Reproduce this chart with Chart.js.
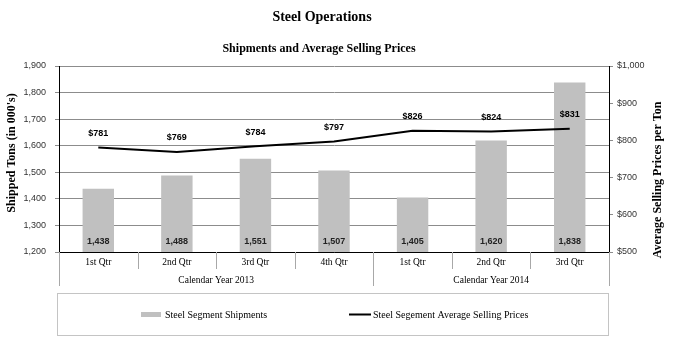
<!DOCTYPE html>
<html>
<head>
<meta charset="utf-8">
<title>Steel Operations</title>
<script src="https://cdn.jsdelivr.net/npm/chart.js@4.4.1/dist/chart.umd.min.js"></script>
<style>
  body { margin: 0; background: #fff; }
  canvas { display: block; }
</style>
</head>
<body>
<canvas id="steelChart" width="674" height="344"></canvas>
<script>
const quarters = ["1st Qtr", "2nd Qtr", "3rd Qtr", "4th Qtr", "1st Qtr", "2nd Qtr", "3rd Qtr"];
const years = ["Calendar Year 2013", "Calendar Year 2014"];
const quartersPerYear = [4, 3];
const shipments = [1438, 1488, 1551, 1507, 1405, 1620, 1838];
const avgPrices = [781, 769, 784, 797, 826, 824, 831];
const shipmentTicks = [1200, 1300, 1400, 1500, 1600, 1700, 1800, 1900];
const priceTicks = [500, 600, 700, 800, 900, 1000];

const SANS = "'Liberation Sans', Arial, sans-serif";
const SERIF = "'Liberation Serif', 'Times New Roman', serif";
const BAR_GREY = "#c0c0c0";

const fmt = new Intl.NumberFormat("en-US");

// value labels, titles, the two-row category table and the boxed legend
const steelDecor = {
  id: "steelDecor",
  afterDatasetsDraw(chart) {
    const { ctx, chartArea } = chart;
    ctx.save();
    ctx.textAlign = "center";
    ctx.textBaseline = "middle";
    ctx.font = `bold 9px ${SANS}`;
    ctx.fillStyle = "#222";
    chart.getDatasetMeta(1).data.forEach((bar, i) => {
      ctx.fillText(fmt.format(shipments[i]), bar.x, chartArea.bottom - 10);
    });
    ctx.fillStyle = "#000";
    chart.getDatasetMeta(0).data.forEach((pt, i) => {
      ctx.fillText("$" + fmt.format(avgPrices[i]), pt.x, pt.y - 14);
    });
    ctx.restore();
  },
  afterDraw(chart) {
    const { ctx, chartArea, scales } = chart;
    const x = scales.x;
    const bottom = chartArea.bottom;
    ctx.save();
    ctx.fillStyle = "#000";
    ctx.textAlign = "center";
    ctx.textBaseline = "middle";

    ctx.font = `bold 14px ${SERIF}`;
    ctx.fillText("Steel Operations", 322, 17);
    ctx.font = `bold 12px ${SERIF}`;
    ctx.fillText("Shipments and Average Selling Prices", 319, 49);

    ctx.save();
    ctx.translate(12, 153);
    ctx.rotate(-Math.PI / 2);
    ctx.fillText("Shipped Tons (in 000's)", 0, 0);
    ctx.restore();
    ctx.save();
    ctx.translate(658, 180);
    ctx.rotate(-Math.PI / 2);
    ctx.fillText("Average Selling Prices per Ton", 0, 0);
    ctx.restore();

    // dividers under the axis: short between quarters, long between years
    const step = x.getPixelForValue(1) - x.getPixelForValue(0);
    const yearEdges = [0];
    quartersPerYear.forEach((n) => yearEdges.push(yearEdges[yearEdges.length - 1] + n));
    ctx.strokeStyle = "#a8a8a8";
    ctx.lineWidth = 1;
    for (let i = 0; i <= quarters.length; i++) {
      const px = Math.round(x.getPixelForValue(i) - step / 2) + 0.5;
      const len = yearEdges.includes(i) ? 34 : 17;
      ctx.beginPath();
      ctx.moveTo(px, bottom);
      ctx.lineTo(px, bottom + len);
      ctx.stroke();
    }

    ctx.font = `9.5px ${SERIF}`;
    let start = 0;
    quartersPerYear.forEach((n, k) => {
      const cx = (x.getPixelForValue(start) + x.getPixelForValue(start + n - 1)) / 2;
      ctx.fillText(years[k], cx, bottom + 28);
      start += n;
    });

    // legend
    ctx.strokeStyle = "#c4c4c4";
    ctx.strokeRect(57.5, 293.5, 551, 42);
    ctx.fillStyle = BAR_GREY;
    ctx.fillRect(141, 312, 20, 5);
    ctx.strokeStyle = "#000";
    ctx.lineWidth = 2;
    ctx.beginPath();
    ctx.moveTo(349, 314.5);
    ctx.lineTo(371, 314.5);
    ctx.stroke();
    ctx.fillStyle = "#000";
    ctx.textAlign = "left";
    ctx.font = `10px ${SERIF}`;
    ctx.fillText("Steel Segment Shipments", 165, 315);
    ctx.fillText("Steel Segement Average Selling Prices", 373, 315);
    ctx.restore();
  },
};

const ctx = document.getElementById("steelChart").getContext("2d");

new Chart(ctx, {
  data: {
    labels: quarters,
    datasets: [
      {
        type: "line",
        label: "Steel Segement Average Selling Prices",
        data: avgPrices,
        yAxisID: "y1",
        borderColor: "#000",
        borderWidth: 2,
        pointRadius: 0,
        tension: 0,
        order: 0,
      },
      {
        type: "bar",
        label: "Steel Segment Shipments",
        data: shipments,
        yAxisID: "y",
        backgroundColor: BAR_GREY,
        categoryPercentage: 1,
        barPercentage: 0.4,
        order: 1,
      },
    ],
  },
  options: {
    responsive: false,
    animation: false,
    layout: { padding: { top: 66, left: 0, right: 0, bottom: 0 } },
    plugins: {
      legend: { display: false },
      title: { display: false },
      tooltip: { enabled: false },
    },
    scales: {
      x: {
        offset: true,
        grid: { display: false, drawTicks: false },
        border: { display: true, color: "#000", width: 1 },
        ticks: {
          color: "#000",
          font: { family: SERIF, size: 9.5 },
          padding: 5,
          maxRotation: 0,
        },
        afterFit: (s) => { s.height = 92; },
      },
      y: {
        position: "left",
        min: shipmentTicks[0],
        max: shipmentTicks[shipmentTicks.length - 1],
        afterBuildTicks: (s) => { s.ticks = shipmentTicks.map((v) => ({ value: v })); },
        grid: { color: "#8c8c8c", tickLength: 4 },
        border: { color: "#000", width: 1 },
        ticks: {
          color: "#333",
          font: { family: SANS, size: 9 },
          padding: 9,
          callback: (v) => fmt.format(v),
        },
        afterFit: (s) => { s.width = 59; },
      },
      y1: {
        position: "right",
        min: priceTicks[0],
        max: priceTicks[priceTicks.length - 1],
        afterBuildTicks: (s) => { s.ticks = priceTicks.map((v) => ({ value: v })); },
        grid: { drawOnChartArea: false, color: "#8c8c8c", tickLength: 4 },
        border: { color: "#000", width: 1 },
        ticks: {
          color: "#333",
          font: { family: SANS, size: 9 },
          padding: 4,
          callback: (v) => "$" + fmt.format(v),
        },
        afterFit: (s) => { s.width = 65; },
      },
    },
  },
  plugins: [steelDecor],
});
</script>
</body>
</html>
